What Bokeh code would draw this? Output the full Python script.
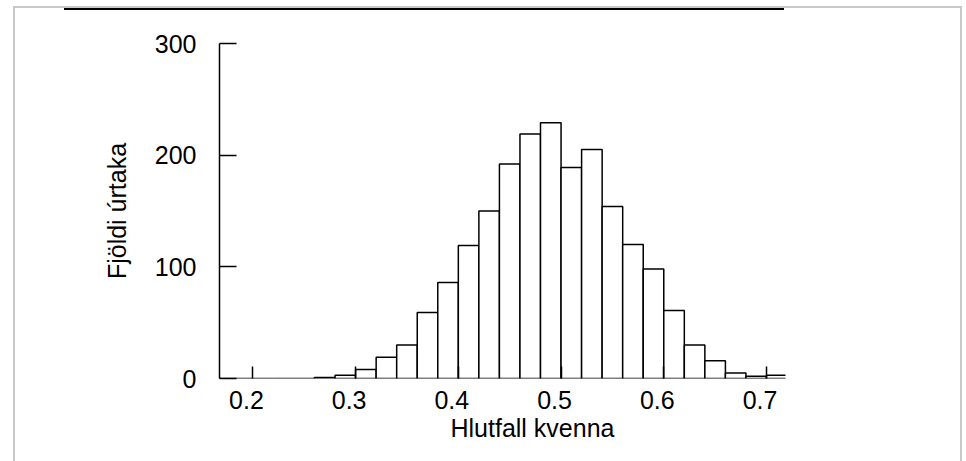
from bokeh.plotting import figure
from bokeh.models import Range1d, FixedTicker, Title, InlineStyleSheet, LinearAxis
from bokeh.embed import file_html
from bokeh.resources import INLINE

# ---- data ----
bin_starts = [0.16, 0.18, 0.20, 0.22, 0.24, 0.26, 0.28, 0.30, 0.32, 0.34, 0.36, 0.38,
              0.40, 0.42, 0.44, 0.46, 0.48, 0.50, 0.52, 0.54, 0.56, 0.58, 0.60,
              0.62, 0.64, 0.66, 0.68, 0.70]
counts = [0, 0, 0, 0, 0, 1, 3, 8, 19, 30, 59, 86,
          119, 150, 192, 219, 229, 189, 205, 154, 120, 98, 61,
          30, 16, 5, 2, 3]
bin_width = 0.02
x_ticks = [0.2, 0.3, 0.4, 0.5, 0.6, 0.7]
x_tick_labels = ["0.2", "0.3", "0.4", "0.5", "0.6", "0.7"]
y_ticks = [0, 100, 200, 300]
y_tick_labels = ["0", "100", "200", "300"]
x_title = "Hlutfall kvenna"
y_title = "Fjöldi úrtaka"

FONT = "Liberation Sans"
X_START, X_END = 0.1675, 0.7185
LABEL_SHIFT = 0.0063   # the reference prints its x labels slightly left of the ticks

# page chrome around the chart (light grey panel edge and black top rule)
chrome = InlineStyleSheet(css="""
:host { position: relative; }
:host::before {
  content: ""; position: absolute; left: 13px; top: 6px; width: 949px; height: 480px;
  border: 2px solid #c8c8c8; box-sizing: border-box; z-index: 5; pointer-events: none;
}
:host::after {
  content: ""; position: absolute; left: 64px; top: 8px; width: 720px; height: 2px;
  background: #000000; z-index: 6; pointer-events: none;
}
""")

p = figure(width=966, height=461, output_backend="svg", toolbar_location=None,
           x_range=Range1d(X_START, X_END), y_range=Range1d(0, 300),
           min_border_left=219, min_border_right=181,
           min_border_top=43, min_border_bottom=83,
           stylesheets=[chrome])
p.outline_line_color = None
p.xgrid.visible = False
p.ygrid.visible = False
p.background_fill_color = "white"
p.border_fill_color = "white"
p.extra_x_ranges = {"labels": Range1d(X_START + LABEL_SHIFT, X_END + LABEL_SHIFT)}

rights = [b + bin_width for b in bin_starts]
p.quad(left=bin_starts, right=rights, bottom=0, top=counts,
       fill_color="white", line_color="black", line_width=1.5)

# x axis: tick marks (inward) on the data range
xa = p.xaxis[0]
xa.ticker = FixedTicker(ticks=x_ticks)
xa.axis_line_color = None
xa.major_tick_in = 12
xa.major_tick_out = 0
xa.major_tick_line_color = "black"
xa.major_tick_line_width = 1.5
xa.minor_tick_line_color = None
xa.major_label_standoff = 0
xa.major_label_text_font_size = "0px"
xa.major_label_text_alpha = 0

# x axis: tick labels
xl = LinearAxis(x_range_name="labels", ticker=FixedTicker(ticks=x_ticks))
xl.major_label_overrides = {t: l for t, l in zip(x_ticks, x_tick_labels)}
xl.axis_line_color = None
xl.major_tick_line_color = None
xl.minor_tick_line_color = None
xl.major_tick_in = 0
xl.major_tick_out = 0
xl.major_label_standoff = 12
xl.major_label_text_font = FONT
xl.major_label_text_font_size = "25px"
xl.major_label_text_color = "black"
p.add_layout(xl, "below")

# y axis
ya = p.yaxis[0]
ya.ticker = FixedTicker(ticks=y_ticks)
ya.major_label_overrides = {t: l for t, l in zip(y_ticks, y_tick_labels)}
ya.axis_line_color = "black"
ya.axis_line_width = 1.5
ya.major_tick_in = 17
ya.major_tick_out = 0
ya.major_tick_line_color = "black"
ya.major_tick_line_width = 1.5
ya.minor_tick_line_color = None
ya.major_label_standoff = 23
ya.major_label_text_font = FONT
ya.major_label_text_font_size = "25px"
ya.major_label_text_color = "black"
ya.axis_label = y_title
ya.axis_label_standoff = 21
ya.axis_label_text_font = FONT
ya.axis_label_text_font_size = "25px"
ya.axis_label_text_font_style = "normal"
ya.axis_label_text_color = "black"

# x title, shifted right as in the reference
p.add_layout(Title(text=x_title, align="left", offset=231, standoff=0,
                   text_font=FONT, text_font_size="25px",
                   text_font_style="normal", text_color="black"), "below")

open("out.html", "w").write(file_html(p, INLINE))
